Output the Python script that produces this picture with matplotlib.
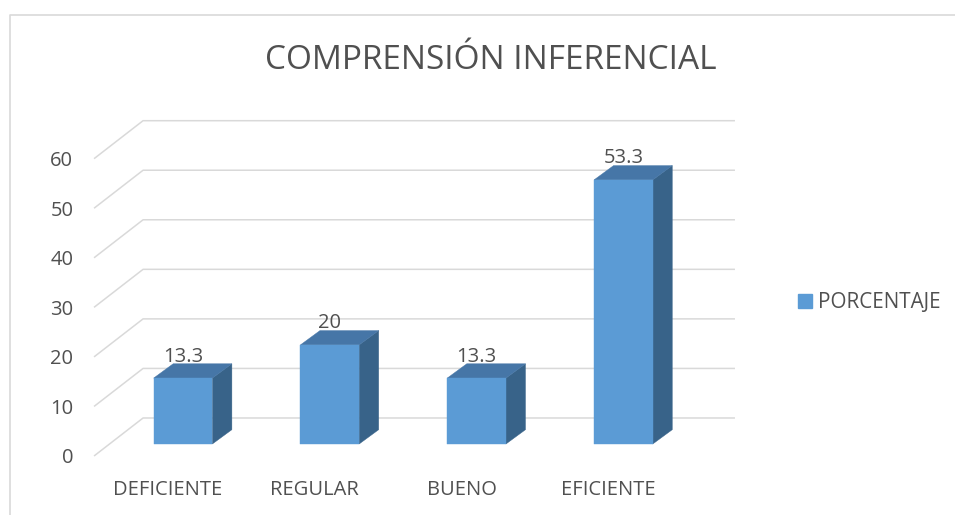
import matplotlib
matplotlib.use("Agg")
import matplotlib.pyplot as plt
from matplotlib.patches import Polygon, Patch

# ── Data ──────────────────────────────────────────────────────────────────────
categories = ["DEFICIENTE", "REGULAR", "BUENO", "EFICIENTE"]
porcentaje = [13.3, 20, 13.3, 53.3]
y_ticks = [0, 10, 20, 30, 40, 50, 60]
title = "COMPRENSIÓN INFERENCIAL"
series_name = "PORCENTAJE"

# ── Style / layout ────────────────────────────────────────────────────────────
FRONT = "#5B9BD5"
TOP = "#4676A7"
SIDE = "#386389"
GRID = "#D9D9D9"
TEXT = "#505050"
FONT = "Open Sans"
FS = 14.5
WT = "medium"

W, H = 955, 515
PX_PER_CAT = 146.8          # horizontal pixels between category centres
PX_PER_UNIT = 4.955         # vertical pixels per value unit
X0_PX, Y0_PX = 183, 444     # first category centre, value 0 at bar front

BAR_HALF = 0.2              # half width of bar front (category units)
DEPTH_X = 0.133             # 3D depth offset (category units)
DEPTH_Y = 2.89              # 3D depth offset (value units)
GRID_FRONT_X, GRID_BACK_X, GRID_END_X = -0.606, -0.272, 3.76
GRID_FRONT_DY, GRID_BACK_DY = -2.42, 5.25

plt.rcParams["font.family"] = [FONT, "DejaVu Sans"]

fig = plt.figure(figsize=(W / 100, H / 100), dpi=100)
ax = fig.add_axes([0, 0, 1, 1])
ax.set_xlim(-X0_PX / PX_PER_CAT, (W - X0_PX) / PX_PER_CAT)
ax.set_ylim(-(H - Y0_PX) / PX_PER_UNIT, Y0_PX / PX_PER_UNIT)
ax.axis("off")

# chart border
ax.plot([10 / W, 10 / W, 1], [0, 1 - 15 / H, 1 - 15 / H], color=GRID, lw=1.2,
        transform=ax.transAxes, clip_on=False)

# gridlines: diagonal floor/side part + back wall part
for v in y_ticks:
    ax.plot([GRID_FRONT_X, GRID_BACK_X, GRID_END_X],
            [v + GRID_FRONT_DY, v + GRID_BACK_DY, v + GRID_BACK_DY],
            color=GRID, lw=1.1, zorder=1, solid_capstyle="butt")
    ax.text(-0.747, v - 3.9, str(v), ha="right", va="baseline",
            fontsize=FS, color=TEXT, fontweight=WT)

# 3D bars
for i, val in enumerate(porcentaje):
    x1, x2 = i - BAR_HALF, i + BAR_HALF
    front = [(x1, 0), (x2, 0), (x2, val), (x1, val)]
    side = [(x2, 0), (x2 + DEPTH_X, DEPTH_Y), (x2 + DEPTH_X, val + DEPTH_Y), (x2, val)]
    top = [(x1, val), (x2, val), (x2 + DEPTH_X, val + DEPTH_Y), (x1 + DEPTH_X, val + DEPTH_Y)]
    for pts, c in [(side, SIDE), (top, TOP), (front, FRONT)]:
        ax.add_patch(Polygon(pts, closed=True, facecolor=c, edgecolor=c,
                             lw=0.3, zorder=3))
    ax.text(i, val + DEPTH_Y + 0.42, f"{val:g}", ha="center", va="baseline",
            fontsize=FS, color=TEXT, fontweight=WT, zorder=4)
    ax.text(i - 0.102, -10.39, categories[i], ha="center", va="baseline",
            fontsize=FS, color=TEXT, fontweight=WT)

# title
ax.text(491 / W, 1 - 69 / H, title, transform=ax.transAxes, ha="center",
        va="baseline", fontsize=24, color=TEXT)

# legend
handle = Patch(facecolor=FRONT, edgecolor=FRONT, label=series_name)
ax.legend(handles=[handle], loc="center left",
          bbox_to_anchor=(798 / W, 1 - 302.5 / H), frameon=False,
          borderpad=0, borderaxespad=0, handlelength=0.66, handleheight=0.66,
          handletextpad=0.3, prop={"family": FONT, "size": 14.9, "weight": WT},
          labelcolor=TEXT)

fig.savefig("out.png", dpi=100)
